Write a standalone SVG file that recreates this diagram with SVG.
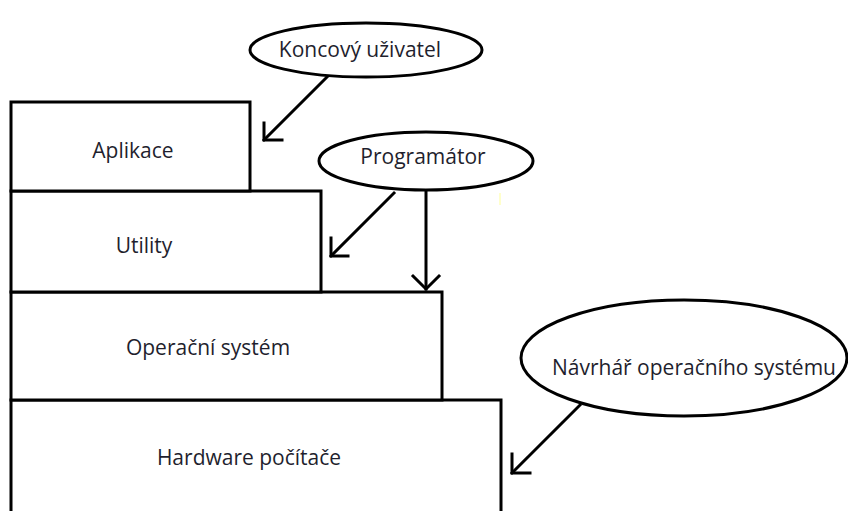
<svg xmlns="http://www.w3.org/2000/svg" width="848" height="511" viewBox="0 0 848 511">
  <style>
    .box { fill: #ffffff; stroke: #000000; stroke-width: 3; }
    .role { fill: #ffffff; stroke: #000000; stroke-width: 3; }
    .lbl { font-family: "Open Sans", "Noto Sans", "Liberation Sans", sans-serif; font-size: 21px; fill: #1f1f2e; text-anchor: middle; }
    .wire { fill: none; stroke: #000000; stroke-width: 3; stroke-linecap: square; }
  </style>
  <rect width="848" height="511" fill="#ffffff"/>

  <!-- layered stack -->
  <g id="hardware">
    <rect class="box" x="11" y="400" width="490" height="125"/>
    <text class="lbl" x="249" y="465">Hardware počítače</text>
  </g>
  <g id="os">
    <rect class="box" x="11" y="292" width="431" height="108"/>
    <text class="lbl" x="208" y="355">Operační systém</text>
  </g>
  <g id="utility">
    <rect class="box" x="11" y="191" width="310" height="101"/>
    <text class="lbl" x="144" y="253">Utility</text>
  </g>
  <g id="aplikace">
    <rect class="box" x="11" y="102" width="239" height="89"/>
    <text class="lbl" x="133" y="158">Aplikace</text>
  </g>

  <!-- actors -->
  <g id="koncovy">
    <ellipse class="role" cx="366" cy="50" rx="116" ry="27"/>
    <text class="lbl" x="360" y="57">Koncový uživatel</text>
  </g>
  <g id="programator">
    <ellipse class="role" cx="426" cy="161" rx="107" ry="29"/>
    <text class="lbl" x="423" y="164">Programátor</text>
  </g>
  <g id="navrhar">
    <ellipse class="role" cx="684" cy="358" rx="163" ry="58"/>
    <text class="lbl" x="694" y="375">Návrhář operačního systému</text>
  </g>

  <!-- connectors -->
  <g id="connectors">
    <line class="wire" x1="327" y1="77" x2="264" y2="140"/>
    <polyline class="wire" points="264,123 264,140 282,140"/>

    <line class="wire" x1="394" y1="193" x2="331" y2="256"/>
    <polyline class="wire" points="331,238 331,256 348,256"/>

    <line class="wire" x1="426" y1="192" x2="426" y2="289"/>
    <polyline class="wire" points="413,276 426,289 439,276"/>

    <line class="wire" x1="580" y1="405" x2="512" y2="473"/>
    <polyline class="wire" points="512,454 512,473 530,473"/>
  </g>

  <line x1="500" y1="193" x2="500" y2="205" stroke="#ffff99" stroke-width="1"/>
</svg>
